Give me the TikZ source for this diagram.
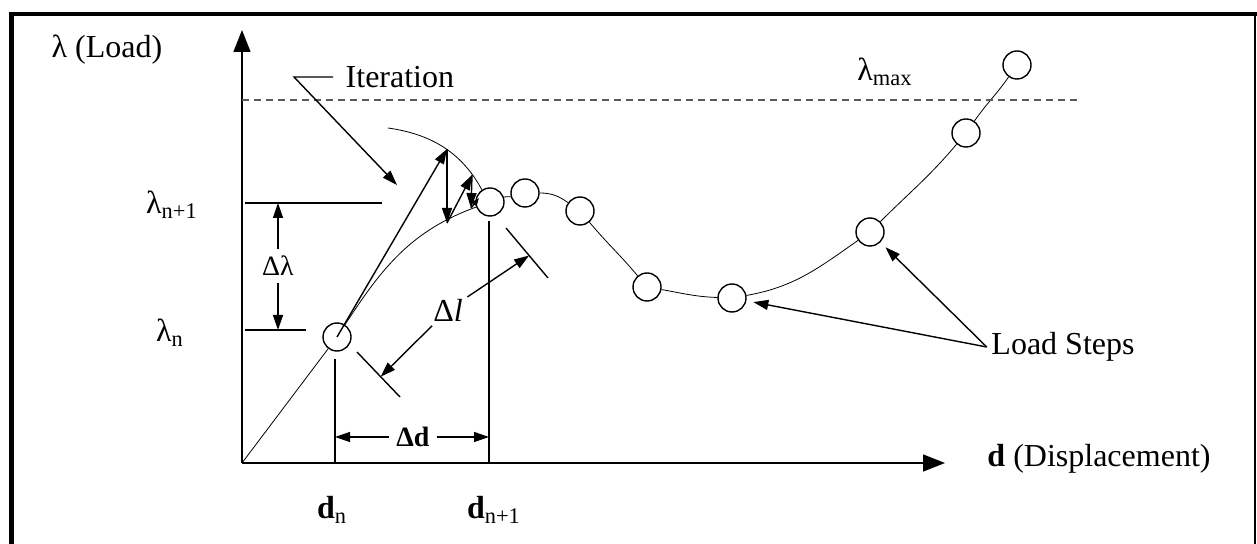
\documentclass[tikz,border=0pt]{standalone}
\usepackage{fontspec}
\setmainfont{Liberation Serif}
\usepackage{xcolor}
\definecolor{dashgray}{RGB}{ 90,  90,  90}
\usepackage{tikz}
\usetikzlibrary{
  arrows.meta, positioning,
  backgrounds, calc
}
\tikzset{
  stepdot/.style={circle, draw, fill=white, minimum size=14pt, inner sep=0pt},
  lbl/.style={font=\fontsize{16}{19}\selectfont, inner sep=2pt},
  dimlbl/.style={font=\fontsize{14}{17}\selectfont},
  dimarrow/.style={-{Triangle[length=7.5pt,width=5pt]}},
  axarrow/.style={-{Triangle[length=11pt,width=8.5pt]}}
}

\begin{document}
\begin{tikzpicture}[x=0.5pt, y=-0.5pt, line width=0.7pt]
    \useasboundingbox (0,0) rectangle (1257,544);
    % frame
    \draw[line width=2pt] (9,14) -- (1257,14);
    \draw[line width=2.5pt] (11,13) -- (11,544);
    \draw[line width=1pt] (1255,14) -- (1255,544);

    % axes
    \coordinate (O) at (242,463);
    \coordinate (ytop) at (242,30);
    \coordinate (xend) at (945,463);
    \draw[axarrow] (O) -- (ytop);
    \draw[axarrow] (O) -- (xend);
    \node[lbl] (ylbl) at (107,50) {λ (Load)};
    \node[lbl] (xlbl) at (1099,459) {\textbf{d} (Displacement)};

    % limit load
    \draw[dashgray, dash pattern=on 3.5pt off 2.5pt] (242,100) -- (1077,100);
    \node[lbl] (lmax) at (885,72) {λ\textsubscript{max}};

    % load steps
    \node[stepdot] (sn)  at (337,337) {};
    \node[stepdot] (sn1) at (490,202) {};
    \node[stepdot] (s2)  at (525,193) {};
    \node[stepdot] (s3)  at (580,211) {};
    \node[stepdot] (s4)  at (647,287) {};
    \node[stepdot] (s5)  at (732,298) {};
    \node[stepdot] (s6)  at (870,232) {};
    \node[stepdot] (s7)  at (966,133) {};
    \node[stepdot] (s8)  at (1017,65) {};

    \coordinate (a1) at (388,128);
    \coordinate (a4) at (486,198);
    \begin{scope}[on background layer]
      \draw (O) -- (sn) to[out=57,in=200] (sn1) to[out=20,in=195] (s2)
        to[out=0,in=145] (s3) to[out=-50,in=130] (s4) to[out=-10,in=178] (s5)
        to[out=10,in=215] (s6) to[out=45,in=230] (s7) to[out=55,in=235] (s8);
      \draw (a1) to[out=-8,in=115] (a4);
    \end{scope}

    % iteration
    \coordinate (it1) at (447,149);
    \coordinate (it2) at (447,223);
    \coordinate (it3) at (472,175);
    \coordinate (it4) at (471,208);
    \coordinate (it5) at (479,198);
    \draw[dimarrow] (sn.center) -- (it1);
    \draw[dimarrow] (it1) -- (it2);
    \draw[dimarrow] (it2) -- (it3);
    \draw[dimarrow] (it3) -- (it4);
    \draw[-{Triangle[length=4pt,width=3pt]}] (it4) -- (it5);

    \node[lbl, anchor=west] (itlbl) at (341,77) {Iteration};
    \coordinate (itbend) at (294,77);
    \coordinate (ittip) at (397,185);
    \draw[dimarrow] ([xshift=-4pt]itlbl.west) -- (itbend) -- (ittip);

    % load increment
    \coordinate (lam1) at (245,203);
    \coordinate (lam0) at (245,330);
    \draw (lam1) -- (382,203);
    \draw (lam0) -- (306,330);
    \node[lbl] (lam1lbl) at (172,205) {λ\textsubscript{n+1}};
    \node[lbl] (lam0lbl) at (170,333) {λ\textsubscript{n}};
    \node[dimlbl] (dlam) at (278,266) {Δλ};
    \draw[dimarrow] (dlam) -- (dlam |- lam1);
    \draw[dimarrow] (dlam) -- (dlam |- lam0);

    % displacement increment
    \coordinate (dn) at (335,463);
    \coordinate (dn1) at (489,463);
    \draw (335,359) -- (dn);
    \draw (489,221) -- (dn1);
    \node[lbl] (dnlbl) at (332,510) {\textbf{d}\textsubscript{n}};
    \node[lbl] (dn1lbl) at (494,510) {\textbf{d}\textsubscript{n+1}};
    \node[dimlbl, font=\fontsize{14}{17}\selectfont\bfseries] (dd) at (413,437) {Δd};
    \draw[dimarrow] (dd) -- (dd -| dn);
    \draw[dimarrow] (dd) -- (dd -| dn1);

    % arc length
    \coordinate (ta1) at (357,352);
    \coordinate (tb1) at (400,397);
    \coordinate (ta2) at (506,228);
    \coordinate (tb2) at (548,278);
    \draw (ta1) -- (tb1);
    \draw (ta2) -- (tb2);
    \node[lbl] (dl) at (448,310) {Δ\textit{l}};
    \draw[dimarrow] (dl) -- ($(ta1)!0.55!(tb1)$);
    \draw[dimarrow] (dl) -- ($(ta2)!0.55!(tb2)$);

    % callout
    \node[lbl] (ls) at (1063,347) {Load Steps};
    \draw[dimarrow, shorten >=3.5pt] (ls.west) -- (s5);
    \draw[dimarrow, shorten >=3.5pt] (ls.west) -- (s6);
  \end{tikzpicture}
\end{document}
